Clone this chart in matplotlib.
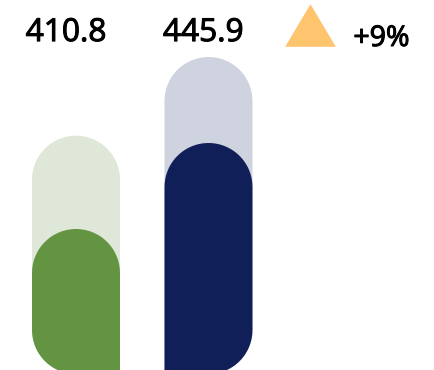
import numpy as np
import matplotlib
matplotlib.use('Agg')
import matplotlib.pyplot as plt
import matplotlib.patheffects as pe
from matplotlib.path import Path
from matplotlib.patches import PathPatch

# Values
categories = ['Prior', 'Current']
values = [410.8, 445.9]
track_values = [448.9, 481.0]

fill_colors = ['#629442', '#111F58']
track_colors = ['#DFE8D8', '#CFD2DF']
rounded_corner = ['left', 'right']

plt.rcParams['font.family'] = ['Open Sans', 'DejaVu Sans']

fig = plt.figure(figsize=(4.34, 3.70), dpi=100)
ax = fig.add_axes([0, 0, 1, 1])
ax.set_xlim(-0.5736, 2.702)
ax.set_ylim(353.25, 504.26)
ax.axis('off')

base = 351.6
half_w = 0.332      # half bar width in x units (44 px)
ry = 17.96          # same 44 px radius in y units

# slight outline so the regular face reads as semibold
heavy = [pe.withStroke(linewidth=0.75, foreground='black')]


def pill(xc, top, side):
    """Bar with a semicircular top and one rounded bottom corner."""
    t1 = np.linspace(0, np.pi, 40)
    top_arc = np.column_stack([xc + half_w * np.cos(t1), top - ry + ry * np.sin(t1)])
    if side == 'left':
        t2 = np.linspace(np.pi, 1.5 * np.pi, 20)
        corner = np.column_stack([xc + half_w * np.cos(t2), base + ry + ry * np.sin(t2)])
        verts = np.vstack([[xc + half_w, base], top_arc, corner, [xc + half_w, base]])
    else:
        t2 = np.linspace(1.5 * np.pi, 2 * np.pi, 20)
        corner = np.column_stack([xc + half_w * np.cos(t2), base + ry + ry * np.sin(t2)])
        verts = np.vstack([corner, top_arc, [xc - half_w, base], [xc, base]])
    return Path(verts, closed=False)


for i in range(len(categories)):
    ax.add_patch(PathPatch(pill(i, track_values[i], rounded_corner[i]),
                           facecolor=track_colors[i], edgecolor='none'))
    ax.add_patch(PathPatch(pill(i, values[i], rounded_corner[i]),
                           facecolor=fill_colors[i], edgecolor='none'))

# value labels above the bars
label_dx = [-0.075, -0.04]
for i, v in enumerate(values):
    ax.text(i + label_dx[i], 487.5, f'{v:.1f}', ha='center', va='baseline',
            fontsize=22.8, color='black', path_effects=heavy)

# change indicator
pct = (values[1] - values[0]) / values[0] * 100
tri = [(-25, -21), (25, -21), (0, 21), (-25, -21)]
ax.plot([1.766], [494.0], marker=tri, markersize=36.5, color='#FEC46E',
        markeredgewidth=0, linestyle='none')
ax.text(2.305, 485.5, f'+{pct:.0f}%', ha='center', va='baseline',
        fontsize=20.5, color='black', path_effects=heavy)

fig.savefig('out.png', dpi=100)
